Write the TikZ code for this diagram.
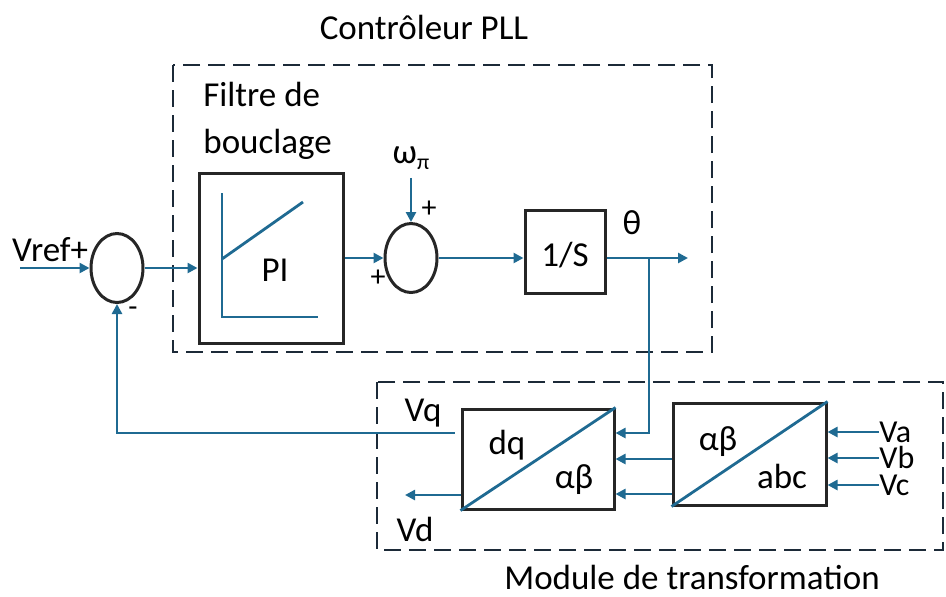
\documentclass[tikz,border=0pt]{standalone}
\usepackage{fontspec}
\setmainfont{Carlito}
\usetikzlibrary{arrows.meta,positioning,shapes.geometric}
\definecolor{wireblue}{RGB}{31,106,146}
\definecolor{framedark}{RGB}{28,42,56}

\begin{document}
\begin{tikzpicture}[x=0.5pt, y=-0.5pt, >={Triangle[length=5pt,width=5pt]},
  blk/.style={draw=black!85, line width=1.5pt, inner sep=0pt},
  sm/.style={draw=black!85, ellipse, line width=1.5pt, inner sep=0pt,
    minimum width=26pt, minimum height=34.5pt},
  grp/.style={draw=framedark, line width=1.4pt, dash pattern=on 8.5pt off 4pt},
  wire/.style={draw=wireblue, line width=1.4pt},
  txt/.style={font=\fontsize{17.5}{21}\selectfont, inner sep=1pt},
  inlbl/.style={font=\fontsize{16}{18}\selectfont, anchor=west, inner sep=0pt,
    text height=10pt, text depth=0pt},
  sgn/.style={font=\fontsize{15}{18}\selectfont, inner sep=0pt}]
\useasboundingbox (0,0) rectangle (946,596);
% (a) controleur PLL
\draw[grp] (173,65) rectangle (712,352);
\node[txt] (ttl) at (424,27) {Contrôleur PLL};
\node[txt, anchor=west, align=left, font=\fontsize{17.5}{23.5}\selectfont] (flt) at (201,121) {Filtre de\\bouclage};
\node[txt] (vref) at (50,250) {Vref+};
\coordinate (vin) at (20,268);
\node[sm] (s1) at (117,268) {};
\node[sgn] (mn) at (133,312) {-};
\node[blk, minimum width=72pt, minimum height=85pt] (pi) at (271,258) {};
\draw[wire] (222,193) -- (222,317) -- (318,317);
\draw[wire] (222,259) -- (303,202);
\node[txt] (pil) at (275,270) {PI};
\node[sm] (s2) at (411,258) {};
\node[sgn] (p1) at (378,278) {+};
\node[sgn] (p2) at (429,209) {+};
\node[txt] (w) at (411,158) {ω\raisebox{-3pt}{\fontsize{11}{11}\selectfont π}};
\node[blk, minimum width=40pt, minimum height=41.5pt] (os) at (565,252) {};
\node[txt] (osl) at (565,255) {1/S};
\node[txt] (th) at (632,223) {θ};
\coordinate (out) at (688,258);
\coordinate (br) at (649,258);
\draw[wire,->] (vin) -- (s1);
\draw[wire,->] (s1) -- (s1 -| pi.west);
\draw[wire,->] (pi) -- (s2);
\draw[wire,->] ([yshift=-3pt]w.south) -- (s2);
\draw[wire,->] (s2) -- (s2 -| os.west);
\draw[wire,->] (os.east |- s2) -- (out);
% (b) module de transformation
\draw[grp] (377,382) rectangle (943,550);
\node[txt] (mod) at (692,577) {Module de transformation};
\node[blk, minimum width=76pt, minimum height=50pt] (dq) at (538,459) {};
\draw[wire] (dq.south west) -- (dq.north east);
\node[txt] (dql) at (507,445) {dq};
\node[txt] (dqr) at (574,480) {αβ};
\node[blk, minimum width=76.5pt, minimum height=51pt] (ab) at (749.5,454) {};
\draw[wire] (ab.south west) -- (ab.north east);
\node[txt] (abl) at (718,442) {αβ};
\node[txt] (abr) at (782,476) {abc};
\node[inlbl] (va) at (879,432) {Va};
\node[inlbl] (vb) at (879,458) {Vb};
\node[inlbl] (vc) at (879,485) {Vc};
\node[txt] (vq) at (423,413) {Vq};
\node[txt] (vd) at (415,529) {Vd};
\coordinate (vdo) at (405,495);
\draw[wire,->] (va) -- (va -| ab.east);
\draw[wire,->] (vb) -- (vb -| ab.east);
\draw[wire,->] (vc) -- (vc -| ab.east);
\draw[wire,->] (ab.west |- dq.east) -- (dq.east);
\draw[wire,->] ([yshift=-17.5pt]ab.west |- dq.east) -- ([yshift=-17.5pt]dq.east);
\draw[wire,->] (br) |- ([yshift=13pt]dq.east);
\draw[wire,->] ([yshift=-18pt]dq.west) -- (vdo);
\draw[wire,->] ([xshift=-3pt,yshift=13pt]dq.west) -| (s1.south);
\end{tikzpicture}
\end{document}
